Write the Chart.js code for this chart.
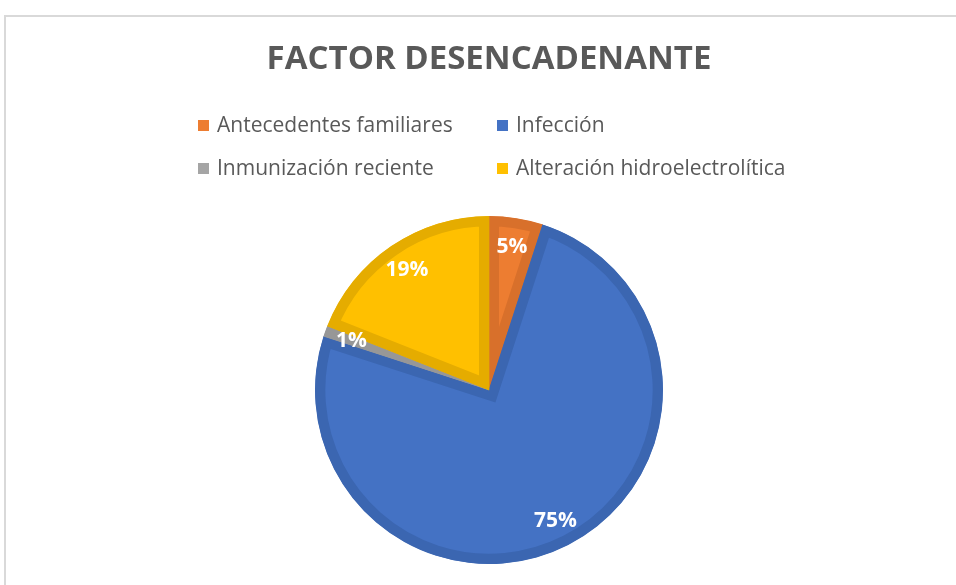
<!DOCTYPE html>
<html lang="es">
<head>
    <meta charset="UTF-8">
    <title>Factor desencadenante</title>
    <script src="https://cdn.jsdelivr.net/npm/chart.js"></script>
    <style>
        body {
            margin: 0;
            background: #fff;
            overflow: hidden;
        }
        .frame {
            position: absolute;
            left: 4px;
            top: 15px;
            width: 1000px;
            height: 700px;
            border-left: 2px solid #d9d9d9;
            border-top: 2px solid #d9d9d9;
        }
        canvas {
            position: absolute;
            left: 0;
            top: 0;
        }
    </style>
</head>
<body>
    <div class="frame"></div>
    <canvas id="factorChart" width="956" height="585"></canvas>

    <script>
        // Data
        const categories = ['Antecedentes familiares', 'Infección', 'Inmunización reciente', 'Alteración hidroelectrolítica'];
        const percents = [5, 75, 1, 19];
        const fillColors = ['#ed7d31', '#4472c4', '#a5a5a5', '#ffc000'];
        const edgeColors = ['#d8702b', '#3b66b1', '#979797', '#e5ac00'];
        const chartTitle = 'FACTOR DESENCADENANTE';

        // Title, two-column legend and the percent labels
        const decorations = {
            id: 'decorations',
            afterDraw(chart) {
                const ctx = chart.ctx;
                ctx.save();

                ctx.fillStyle = '#595959';
                ctx.font = 'bold 33px "Open Sans"';
                ctx.textAlign = 'center';
                ctx.textBaseline = 'middle';
                ctx.fillText(chartTitle, 489, 60);

                const colX = [198, 497];
                const rowY = [125, 168];
                ctx.font = '21px "Open Sans"';
                ctx.textAlign = 'left';
                categories.forEach((name, i) => {
                    const x = colX[i % 2];
                    const y = rowY[Math.floor(i / 2)];
                    ctx.fillStyle = fillColors[i];
                    ctx.fillRect(x, y - 5, 11, 11);
                    ctx.fillStyle = '#595959';
                    ctx.fillText(name, x + 19, y + 1);
                });

                ctx.fillStyle = '#ffffff';
                ctx.font = 'bold 21px "Open Sans"';
                ctx.textAlign = 'center';
                chart.getDatasetMeta(0).data.forEach((arc, i) => {
                    const mid = (arc.startAngle + arc.endAngle) / 2;
                    const r = arc.outerRadius * 0.84;
                    ctx.fillText(percents[i] + '%', arc.x + Math.cos(mid) * r, arc.y + Math.sin(mid) * r + 1);
                });
                ctx.restore();
            }
        };

        const ctx = document.getElementById('factorChart').getContext('2d');
        new Chart(ctx, {
            type: 'pie',
            data: {
                labels: categories,
                datasets: [{
                    data: percents,
                    backgroundColor: fillColors,
                    borderColor: edgeColors,
                    borderWidth: 10,
                    borderAlign: 'inner',
                    borderJoinStyle: 'miter'
                }]
            },
            options: {
                responsive: false,
                animation: false,
                radius: 174,
                layout: {
                    padding: { top: 216, bottom: 21, left: 315, right: 293 }
                },
                plugins: {
                    legend: { display: false },
                    title: { display: false },
                    tooltip: { enabled: false }
                }
            },
            plugins: [decorations]
        });
    </script>
</body>
</html>
